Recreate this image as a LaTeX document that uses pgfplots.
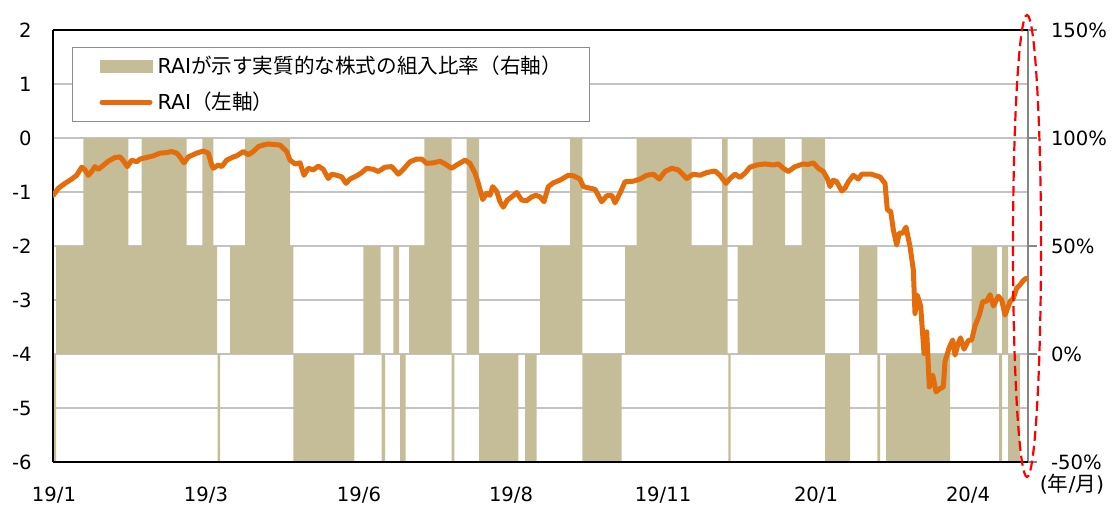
\documentclass[border=0pt]{standalone}
\usepackage{fontspec}
\setmainfont{DejaVu Sans}
\newfontfamily\jp{Noto Sans CJK JP}
\usepackage{pgfplots}
\pgfplotsset{compat=1.18}
\definecolor{khaki}{HTML}{C4BD97}
\definecolor{raiorange}{HTML}{E46C0A}
\definecolor{gridgray}{HTML}{C3C3C3}
\definecolor{axgray}{HTML}{868686}
\definecolor{leggray}{HTML}{8C8C8C}
\begin{document}
\begin{tikzpicture}
% ---------- right axis: share of equities (%) ----------
\begin{axis}[
  at={(0,0)}, anchor=south west, scale only axis,
  width=487.5pt, height=216pt,
  xmin=53, xmax=1028, ymin=-50, ymax=150,
  axis x line=none, axis y line*=right,
  y axis line style={draw=axgray, line width=1.3pt},
  ytick={-50,0,50,100,150},
  yticklabels={-50\%,0\%,50\%,100\%,150\%},
  minor ytick={-25,25,75,125},
  ymajorgrids, yminorgrids,
  major grid style={draw=gridgray, line width=0.7pt},
  minor grid style={draw=gridgray, line width=0.7pt},
  tick align=outside, major tick length=4.5pt, minor tick length=0pt,
  ytick style={draw=axgray, line width=0.7pt},
  yticklabel style={anchor=west, inner sep=0pt, xshift=6.8pt,
    font=\fontsize{9.8}{11}\selectfont},
]
\addplot[const plot, fill=khaki, draw=none] coordinates {
(53,-50) (56,50) (83.3,100) (128.3,50) (141.7,100) (186.7,50) (202.3,100)
(213.3,50) (217,0) (217.7,-50) (220,0) (230,50) (245,100) (290,50)
(293.3,-50) (354.3,0) (363.3,50) (380.7,0) (381.7,-50) (385,0) (393.3,50)
(399,0) (400,-50) (405.7,0) (409,50) (424.3,100) (451.7,-50) (454.3,0)
(466.7,100) (479,-50) (518.3,0) (525,-50) (536.7,0) (540,50) (570,100)
(582.3,-50) (621.7,0) (625,50) (636.7,100) (691.7,50) (722,100) (727.5,0)
(728.3,-50) (730.7,0) (737.7,50) (752.7,100) (785,50) (801.7,100)
(825,-50) (850,0) (859,50) (877.3,-50) (880,0) (886,-50) (950,0)
(971.7,50) (997,0) (999,-50) (1002,50) (1008,-50) (1020,0) (1028,0)
} \closedcycle;
\end{axis}
% ---------- left axis: RAI ----------
\begin{axis}[
  at={(0,0)}, anchor=south west, scale only axis,
  width=487.5pt, height=216pt,
  xmin=53, xmax=1028, ymin=-6, ymax=2,
  axis y line*=left, axis x line*=box,
  axis line style={draw=black, line width=0.85pt},
  ytick={-6,-5,...,2},
  xtick={54,206,359,511,663,816,968},
  xticklabels={19/1,19/3,19/6,19/8,19/11,20/1,20/4},
  major tick length=0pt,
  /pgf/number format/assume math mode=true,
  yticklabel style={anchor=east, inner sep=0pt, xshift=-10.5pt,
    font=\fontsize{9.8}{11}\selectfont},
  xticklabel style={anchor=north, inner sep=0pt, yshift=-12.5pt,
    font=\fontsize{9.8}{11}\selectfont},
  legend cell align=left,
  legend style={at={(0.0195,0.9606)}, anchor=north west,
    draw=leggray, line width=0.5pt, fill=white,
    inner xsep=13.5pt, inner ysep=5.2pt, row sep=9.4pt, column sep=2.5pt,
    nodes={inner sep=0pt, text height=7.8pt, text depth=0.7pt},
    font=\fontsize{10.3}{12}\selectfont},
]
\addlegendimage{legend image code/.code={\fill[khaki] (0pt,-3pt) rectangle (26pt,3pt);}}
\addlegendentry{\makebox[202.5pt][l]{RAI{\jp が示す実質的な株式の組入比率（右軸）}}}
\addplot[raiorange, line width=2.5pt, line join=round, line cap=round,
  legend image code/.code={\draw[raiorange, line width=2.5pt, line cap=round] (1pt,0pt) -- (25pt,0pt);}]
coordinates {
(53.3,-1.06) (58.3,-0.93) (65,-0.84) (71.7,-0.76) (76.7,-0.69) (81.7,-0.54)
(85,-0.59) (88.3,-0.69) (91.7,-0.62) (95,-0.53) (98.3,-0.58) (101.7,-0.53)
(108.3,-0.43) (115,-0.36) (120,-0.35) (123.3,-0.42) (127.3,-0.53) (131.7,-0.41)
(136.7,-0.44) (140,-0.39) (146.7,-0.36) (153.3,-0.33) (160,-0.28) (166.7,-0.27)
(171.7,-0.25) (176.7,-0.28) (180,-0.35) (184,-0.46) (188.3,-0.35) (196.7,-0.28)
(203.3,-0.24) (208.3,-0.28) (211.7,-0.50) (213.3,-0.56) (218.3,-0.50) (221.7,-0.53)
(226.7,-0.41) (233.3,-0.35) (236.7,-0.33) (243.3,-0.25) (248.3,-0.31) (253.3,-0.25)
(258.3,-0.16) (263.3,-0.13) (268.3,-0.11) (273.3,-0.12) (280,-0.13) (283.3,-0.19)
(286.7,-0.25) (290,-0.41) (295,-0.48) (300,-0.46) (304,-0.69) (308.3,-0.56)
(313.3,-0.59) (318.3,-0.52) (323.3,-0.58) (328.3,-0.75) (331.7,-0.67) (336.7,-0.69)
(341.7,-0.72) (346,-0.84) (350,-0.76) (356.7,-0.70) (361.7,-0.64) (366.7,-0.56)
(373.3,-0.58) (378.3,-0.62) (385,-0.54) (391.7,-0.53) (398.3,-0.67) (403.3,-0.58)
(410,-0.44) (416.7,-0.39) (421.7,-0.39) (426.7,-0.47) (433.3,-0.46) (440,-0.43)
(445,-0.48) (451.7,-0.56) (456.7,-0.50) (465,-0.41) (470,-0.47) (475,-0.65)
(478.3,-0.84) (482.7,-1.14) (486.7,-1.02) (490,-1.06) (492.7,-0.90) (496.7,-0.99)
(500,-1.18) (503.3,-1.28) (507.3,-1.15) (511.7,-1.09) (516.7,-1.01) (521.7,-1.15)
(526.7,-1.16) (531.7,-1.09) (536,-1.06) (540,-1.09) (544,-1.18) (548.3,-0.90)
(553.3,-0.83) (560,-0.78) (568.3,-0.69) (573.3,-0.70) (580,-0.76) (583.3,-0.90)
(590,-0.93) (595,-0.95) (601.7,-1.18) (606.7,-1.07) (611.7,-1.06) (615,-1.20)
(620,-1.02) (625,-0.81) (633.3,-0.80) (640,-0.76) (646.7,-0.69) (653.3,-0.67)
(659.3,-0.76) (665,-0.62) (671.7,-0.56) (678.3,-0.59) (686.7,-0.75) (693.3,-0.67)
(700,-0.69) (706.7,-0.64) (715,-0.61) (720,-0.69) (726,-0.84) (730,-0.75)
(735,-0.67) (740,-0.73) (745,-0.65) (750,-0.54) (756.7,-0.50) (765,-0.48)
(773.3,-0.50) (778.3,-0.48) (783.3,-0.56) (788.3,-0.62) (795,-0.53) (803.3,-0.48)
(808,-0.49) (813.3,-0.46) (818.3,-0.56) (823.3,-0.62) (827.3,-0.75) (830,-0.90)
(833.3,-0.78) (836.7,-0.81) (841.7,-0.98) (845,-0.93) (848.3,-0.81) (853.3,-0.69)
(858.3,-0.76) (861.7,-0.67) (866.7,-0.67) (871.7,-0.67) (876,-0.70) (880,-0.72)
(885,-0.84) (887.3,-1.33) (890.7,-1.36) (893.3,-1.70) (896.7,-1.98) (899.3,-1.76)
(902.7,-1.76) (906,-1.65) (910,-2.01) (913.3,-2.44) (915,-3.25) (917.3,-2.91)
(920.7,-3.12) (924,-3.99) (926.7,-3.59) (929.3,-4.61) (932.7,-4.39) (936,-4.70)
(940,-4.64) (943.3,-4.61) (945,-4.14) (949,-3.89) (952.7,-3.74) (955,-4.02)
(958.3,-3.80) (960.5,-3.70) (964,-3.91) (968.3,-3.75) (971.7,-3.74) (975,-3.48)
(979.3,-3.28) (982.7,-3.03) (986.7,-3.02) (990,-2.90) (993.3,-3.11) (998.3,-2.93)
(1001.7,-3.00) (1005,-3.28) (1010,-3.03) (1013.3,-2.97) (1016.7,-2.78) (1020,-2.72)
(1023.3,-2.64) (1026,-2.60)
};
\addlegendentry{RAI{\jp （左軸）}}
\end{axis}
\node[font=\fontsize{10.3}{12}\selectfont, inner sep=0pt] at (509.5pt,-11pt) {({\jp 年}/{\jp 月})};
\draw[red, line width=1.1pt, dash pattern=on 5pt off 2.5pt] (487pt,108pt) ellipse [x radius=7pt, y radius=115.5pt];
\pgfresetboundingbox
\path[use as bounding box] (-26.5pt,-21.5pt) rectangle (529.5pt,231pt);
\end{tikzpicture}
\end{document}
